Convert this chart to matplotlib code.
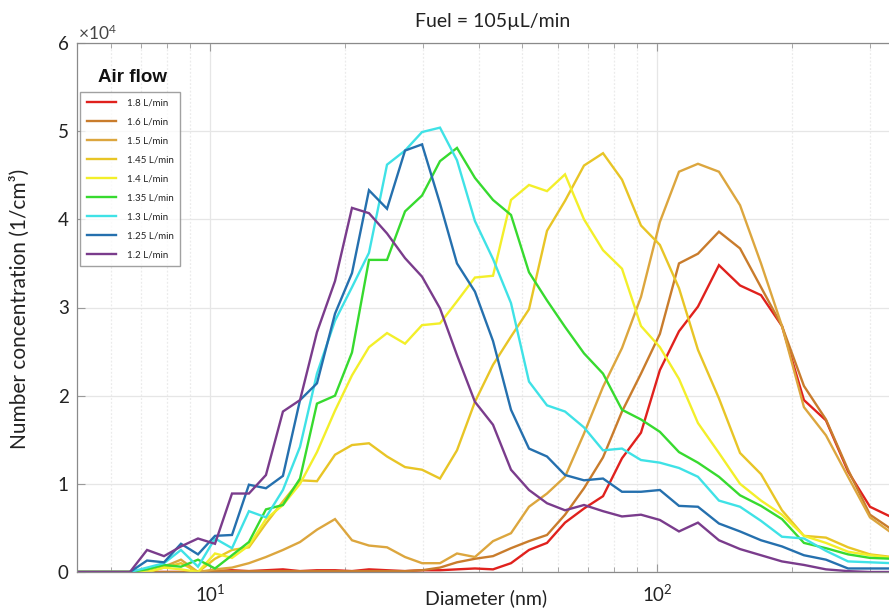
import matplotlib
matplotlib.use("Agg")
import matplotlib.pyplot as plt
from matplotlib.ticker import LogLocator, LogFormatterMathtext, NullFormatter, MultipleLocator

plt.rcParams['font.family'] = ['Lato', 'DejaVu Sans']
plt.rcParams['mathtext.fontset'] = 'custom'
plt.rcParams['mathtext.rm'] = 'Lato'
plt.rcParams['mathtext.it'] = 'Lato:italic'
plt.rcParams['mathtext.bf'] = 'Lato:bold'

# Diameter bins (nm)
diameter = [5.09, 5.56, 6.07, 6.62, 7.23, 7.89, 8.61, 9.40, 10.26, 11.20, 12.22, 13.34,
            14.56, 15.90, 17.35, 19.04, 20.78, 22.68, 24.89, 27.31, 29.81, 32.70, 35.69,
            39.15, 42.97, 47.14, 51.72, 56.75, 62.27, 68.66, 75.73, 83.51, 92.09, 101.5,
            112.0, 123.5, 137.6, 153.4, 170.9, 190.4, 213.2, 238.8, 267.6, 299.6, 335.6, 375.7]

# Number concentration, units of 1e4 /cm^3
air_1_8 = [0, 0, 0, 0, 0, 0, 0, 0, 0.01, 0.02, 0.01, 0.02, 0.03, 0.01, 0.02, 0.02, 0.01, 0.03,
           0.02, 0.01, 0.02, 0.02, 0.03, 0.04, 0.03, 0.10, 0.25, 0.33, 0.56, 0.72, 0.86, 1.29,
           1.58, 2.29, 2.73, 3.01, 3.48, 3.25, 3.14, 2.79, 1.95, 1.72, 1.14, 0.74, 0.62, 0.55]
air_1_6 = [0, 0, 0, 0, 0, 0, 0, 0, 0.01, 0.01, 0.01, 0.01, 0.01, 0.01, 0.01, 0.01, 0.01, 0.01,
           0.01, 0.01, 0.02, 0.05, 0.11, 0.15, 0.18, 0.27, 0.35, 0.42, 0.65, 0.95, 1.30, 1.82,
           2.25, 2.70, 3.50, 3.61, 3.86, 3.67, 3.23, 2.79, 2.11, 1.73, 1.16, 0.65, 0.48, 0.40]
air_1_5 = [0, 0, 0, 0, 0, 0.06, 0.14, 0.0, 0.03, 0.05, 0.10, 0.17, 0.25, 0.34, 0.48, 0.60,
           0.36, 0.30, 0.28, 0.17, 0.10, 0.10, 0.21, 0.17, 0.35, 0.44, 0.74, 0.89, 1.08, 1.57,
           2.10, 2.54, 3.12, 3.97, 4.54, 4.63, 4.54, 4.16, 3.50, 2.79, 1.87, 1.55, 1.08, 0.62,
           0.44, 0.35]
air_1_45 = [0, 0, 0, 0, 0, 0.05, 0.10, 0.0, 0.15, 0.25, 0.28, 0.55, 0.80, 1.04, 1.03, 1.33,
            1.44, 1.46, 1.31, 1.19, 1.16, 1.06, 1.38, 1.93, 2.35, 2.67, 2.98, 3.87, 4.21, 4.61,
            4.75, 4.45, 3.93, 3.71, 3.22, 2.52, 1.97, 1.35, 1.11, 0.70, 0.41, 0.39, 0.28, 0.20,
            0.17, 0.15]
air_1_4 = [0, 0, 0, 0, 0, 0.05, 0.03, 0.0, 0.21, 0.16, 0.30, 0.60, 0.76, 1.00, 1.36, 1.83,
           2.23, 2.55, 2.71, 2.59, 2.80, 2.82, 3.07, 3.34, 3.36, 4.22, 4.39, 4.32, 4.51, 4.00,
           3.65, 3.44, 2.79, 2.55, 2.19, 1.69, 1.35, 1.00, 0.81, 0.65, 0.41, 0.33, 0.23, 0.19,
           0.16, 0.15]
air_1_35 = [0, 0, 0, 0, 0.03, 0.08, 0.06, 0.14, 0.04, 0.19, 0.34, 0.71, 0.76, 1.06, 1.91, 2.00,
            2.49, 3.54, 3.54, 4.09, 4.27, 4.66, 4.81, 4.47, 4.22, 4.05, 3.40, 3.08, 2.78, 2.48,
            2.25, 1.84, 1.73, 1.59, 1.36, 1.24, 1.08, 0.87, 0.75, 0.60, 0.33, 0.27, 0.20, 0.16,
            0.15, 0.14]
air_1_3 = [0, 0, 0, 0, 0.05, 0.10, 0.25, 0.06, 0.38, 0.27, 0.69, 0.62, 0.93, 1.42, 2.25, 2.85,
           3.23, 3.62, 4.62, 4.78, 4.99, 5.04, 4.67, 3.98, 3.55, 3.05, 2.16, 1.89, 1.82, 1.64,
           1.38, 1.40, 1.27, 1.24, 1.18, 1.08, 0.81, 0.74, 0.58, 0.40, 0.38, 0.24, 0.12, 0.11,
           0.10, 0.10]
air_1_25 = [0, 0, 0, 0, 0.13, 0.11, 0.32, 0.20, 0.41, 0.42, 0.99, 0.95, 1.09, 1.95, 2.14, 2.93,
            3.39, 4.33, 4.12, 4.78, 4.85, 4.18, 3.50, 3.18, 2.62, 1.84, 1.40, 1.31, 1.10, 1.04,
            1.06, 0.91, 0.91, 0.93, 0.75, 0.74, 0.55, 0.46, 0.36, 0.29, 0.19, 0.14, 0.04, 0.04,
            0.04, 0.04]
air_1_2 = [0, 0, 0, 0, 0.25, 0.18, 0.29, 0.38, 0.32, 0.89, 0.89, 1.10, 1.82, 1.95, 2.72, 3.30,
           4.13, 4.07, 3.84, 3.56, 3.35, 2.99, 2.46, 1.93, 1.67, 1.16, 0.93, 0.78, 0.70, 0.76,
           0.69, 0.63, 0.65, 0.59, 0.46, 0.56, 0.36, 0.26, 0.19, 0.12, 0.08, 0.03, 0.01, 0, 0, 0]

labels = ['1.8 L/min', '1.6 L/min', '1.5 L/min', '1.45 L/min', '1.4 L/min',
          '1.35 L/min', '1.3 L/min', '1.25 L/min', '1.2 L/min']
series = [air_1_8, air_1_6, air_1_5, air_1_45, air_1_4, air_1_35, air_1_3, air_1_25, air_1_2]
colors = ['#e0211d', '#c97c2c', '#dca63e', '#e8c526', '#f3ef2a', '#37da2f', '#3fe2e6',
          '#2570ae', '#7a3c8c']

W, H = 889, 608
fig = plt.figure(figsize=(W / 100, H / 100), dpi=100)
ax_left, ax_right, ax_top, ax_bot = 77, 909, 43, 572
ax = fig.add_axes([ax_left / W, 1 - ax_bot / H, (ax_right - ax_left) / W, (ax_bot - ax_top) / H])

for ys, c, lab in zip(series, colors, labels):
    ax.plot(diameter, ys, color=c, lw=1.7, label=lab, solid_joinstyle='miter')

ax.set_xscale('log')
ax.set_xlim(5.04, 366.3)
ax.set_ylim(0, 6)

ax.xaxis.set_major_locator(LogLocator(base=10))
ax.xaxis.set_major_formatter(LogFormatterMathtext())
ax.xaxis.set_minor_locator(LogLocator(base=10, subs=range(2, 10)))
ax.xaxis.set_minor_formatter(NullFormatter())
ax.yaxis.set_major_locator(MultipleLocator(1))

spine_c = '#8a8a8a'
for s in ax.spines.values():
    s.set_color(spine_c)
    s.set_linewidth(0.9)
ax.tick_params(which='both', direction='in', top=True, right=False, colors='#9a9a9a',
               labelcolor='#222222')
ax.tick_params(which='major', length=6, labelsize=13.5)
ax.tick_params(which='minor', length=3.5)
ax.tick_params(axis='x', pad=8)
ax.tick_params(axis='y', pad=6)

ax.grid(True, which='major', axis='y', color='#e6e6e6', lw=0.9, ls='-')
ax.grid(True, which='major', axis='x', color='#e6e6e6', lw=0.9, ls='-')
ax.grid(True, which='minor', axis='x', color='#ebebeb', lw=0.9, ls=(0, (1.5, 1.5)))
ax.set_axisbelow(True)

fig.text(493 / W, 1 - 22 / H, 'Fuel = 105\u00b5L/min', ha='center', va='center', fontsize=14,
         color='#222222')
fig.text(486 / W, 1 - 598 / H, 'Diameter (nm)', ha='center', va='center', fontsize=14,
         color='#222222')
fig.text(20 / W, 1 - 309 / H, 'Number concentration (1/cm\u00b3)', ha='center', va='center',
         rotation=90, fontsize=15, color='#222222')
fig.text(78 / W, 1 - 33 / H, '\u00d710$^{4}$', ha='left', va='center', fontsize=12.5,
         color='#444444')

leg = ax.legend(loc='upper left', bbox_to_anchor=(80 / W, 1 - 92 / H),
                bbox_transform=fig.transFigure, fontsize=7, frameon=True, fancybox=False,
                handlelength=3.0, handletextpad=1.1, labelspacing=1.02, borderpad=0.7,
                borderaxespad=0)
leg.get_frame().set_edgecolor('#8a8a8a')
leg.get_frame().set_linewidth(1.0)
for t in leg.get_texts():
    t.set_color('#222222')
fig.text(132 / W, 1 - 78 / H, 'Air flow', ha='center', va='center', fontsize=13.5,
         fontweight='bold', family=['Liberation Sans', 'DejaVu Sans'], color='#111111')

fig.savefig('out.png', dpi=100)
